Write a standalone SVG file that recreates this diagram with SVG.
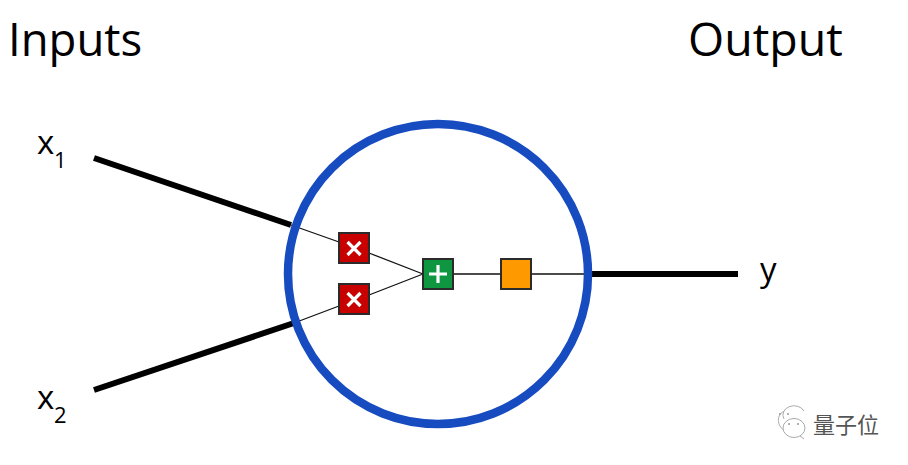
<svg xmlns="http://www.w3.org/2000/svg" width="908" height="465" viewBox="0 0 908 465">
<style>
.t{font-family:"Open Sans","Noto Sans",sans-serif;fill:#000}
.v{font-size:33px}
.s{font-size:22px}
.thick{stroke:#000;stroke-width:6;fill:none}
.thin{stroke:#111;stroke-width:1.3;fill:none}
.box{stroke:#2b2b2b;stroke-width:2}
.g{stroke:#fff;stroke-width:3.2;fill:none}
.bub{fill:#fff;stroke:#aaa;stroke-width:1}
.dot{fill:#999}
</style>
<rect width="908" height="465" fill="#fff"/>
<g id="connectors">
<path class="thick" d="M94 158L291 225M94 390L294 323M590 274H738"/>
<path class="thin" d="M291 225L339 242M294 323L339 306M369 253L423 274M369 295L423 274M454 274H501M531 274H590"/>
</g>
<g id="neuron"><circle cx="438" cy="274" r="150" fill="none" stroke="#174bc0" stroke-width="8.500"/></g>
<g id="mul1"><rect class="box" x="339" y="233" width="30" height="30" fill="#c80000"/><path class="g" d="M347.500 242l13 13M360.500 242l-13 13"/></g>
<g id="mul2"><rect class="box" x="339" y="284" width="30" height="30" fill="#c80000"/><path class="g" d="M347.500 293l13 13M360.500 293l-13 13"/></g>
<g id="sum"><rect class="box" x="423" y="259" width="30" height="30" fill="#0f9640"/><path class="g" d="M429 274h18M438 265v18"/></g>
<g id="activation"><rect class="box" x="501" y="259" width="30" height="30" fill="#ff9900"/></g>
<g id="label-inputs"><text class="t" font-size="45.5" x="8" y="56">Inputs</text></g>
<g id="label-output"><text class="t" font-size="46.5" x="688" y="56">Output</text></g>
<g id="label-x1"><text class="t v" x="37" y="154">x</text><text class="t s" x="54" y="168">1</text></g>
<g id="label-x2"><text class="t v" x="37" y="409">x</text><text class="t s" x="54" y="423">2</text></g>
<g id="label-y"><text class="t v" x="760" y="281">y</text></g>
<g id="watermark">
<path class="bub" d="M791 410c-18 0-14 19-5 21l2 3 3-2"/>
<path class="bub" d="M784 419a6 5 0 0 1 20-8"/>
<ellipse class="bub" cx="794" cy="428" rx="11" ry="9.500"/>
<path class="bub" d="M800 436l4 3"/>
<circle class="dot" cx="780" cy="414" r="1"/><circle class="dot" cx="788" cy="414" r="1"/>
<circle class="dot" cx="789" cy="424" r="1"/><circle class="dot" cx="798" cy="424" r="1"/>
<text x="813" y="433" font-size="22" fill="#555" font-family="'Noto Sans CJK SC',sans-serif">量子位</text>
</g>
</svg>
